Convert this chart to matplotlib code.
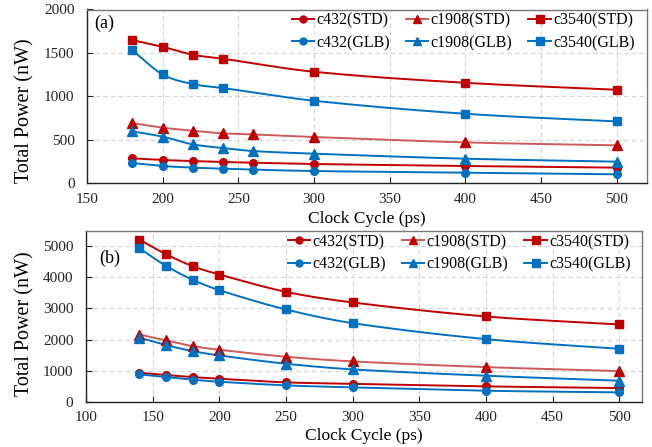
import numpy as np
import matplotlib
matplotlib.use("Agg")
import matplotlib.pyplot as plt
from matplotlib.lines import Line2D

plt.rcParams['font.family'] = ['Liberation Serif', 'DejaVu Serif']

# ---------------- data ----------------
# panel (a)
xa_c432 = [180, 200, 220, 240, 260, 300, 400, 500]
ya_c432_std = [284, 265, 253, 242, 234, 219, 196, 177]
ya_c432_glb = [230, 196, 177, 165, 154, 138, 119, 100]
xa_c1908 = [180, 200, 220, 240, 260, 300, 400, 500]
ya_c1908_std = [690, 637, 603, 572, 560, 530, 468, 434]
ya_c1908_glb = [595, 534, 445, 403, 368, 338, 280, 246]
xa_c3540 = [180, 200, 220, 240, 300, 400, 500]
ya_c3540_std = [1647, 1570, 1478, 1432, 1282, 1155, 1075]
ya_c3540_glb = [1528, 1251, 1140, 1094, 948, 798, 710]

# panel (b)
xb = [140, 160, 180, 200, 250, 300, 400, 500]
yb_c432_std = [931, 857, 792, 739, 621, 578, 493, 439]
yb_c432_glb = [878, 792, 707, 642, 525, 460, 353, 300]
yb_c1908_std = [2160, 1970, 1788, 1670, 1445, 1296, 1113, 985]
yb_c1908_glb = [2060, 1820, 1627, 1488, 1221, 1039, 835, 675]
yb_c3540_std = [5214, 4743, 4358, 4090, 3533, 3191, 2741, 2484]
yb_c3540_glb = [4936, 4368, 3919, 3587, 2966, 2527, 2013, 1702]

labels = ['c432(STD)', 'c1908(STD)', 'c3540(STD)', 'c432(GLB)', 'c1908(GLB)', 'c3540(GLB)']
xticks_a = [150, 200, 250, 300, 350, 400, 450, 500]
yticks_a = [0, 500, 1000, 1500, 2000]
xticks_b = [100, 150, 200, 250, 300, 350, 400, 450, 500]
yticks_b = [0, 1000, 2000, 3000, 4000, 5000]

RED = '#C00000'
RED_LIGHT = '#CC5A5A'
BLUE = '#0070C0'


def smooth(x, y, n=30):
    x = np.asarray(x, float)
    y = np.asarray(y, float)
    m = np.zeros_like(y)
    m[1:-1] = (y[2:] - y[:-2]) / (x[2:] - x[:-2])
    m[0] = (y[1] - y[0]) / (x[1] - x[0])
    m[-1] = (y[-1] - y[-2]) / (x[-1] - x[-2])
    xs, ys = [], []
    for i in range(len(x) - 1):
        h = x[i + 1] - x[i]
        t = np.linspace(0, 1, n)
        h00 = 2 * t**3 - 3 * t**2 + 1
        h10 = t**3 - 2 * t**2 + t
        h01 = -2 * t**3 + 3 * t**2
        h11 = t**3 - t**2
        xs.append(x[i] + t * h)
        ys.append(h00 * y[i] + h10 * h * m[i] + h01 * y[i + 1] + h11 * h * m[i + 1])
    return np.concatenate(xs), np.concatenate(ys)


def series(ax, x, y, color, linecolor, marker, ms):
    sx, sy = smooth(x, y)
    ax.plot(sx, sy, color=linecolor, lw=1.4, zorder=3)
    ax.plot(x, y, ls='none', marker=marker, color=color, ms=ms, zorder=4)


def style(ax, xlim, ylim, xticks, yticks, ylab_xy, xlab_y):
    ax.set_xlim(*xlim)
    ax.set_ylim(*ylim)
    ax.set_xticks(xticks)
    ax.set_yticks(yticks)
    ax.grid(True, ls=(0, (4, 3)), color='#D3D3D3', lw=0.8, zorder=0)
    ax.set_axisbelow(True)
    ax.tick_params(direction='in', labelsize=11, length=4, colors='#222222')
    ax.tick_params(axis='x', pad=7)
    ax.tick_params(axis='y', pad=9)
    for s in ['left', 'bottom']:
        ax.spines[s].set_color('#222222')
        ax.spines[s].set_linewidth(1.0)
    for s in ['top', 'right']:
        ax.spines[s].set_color('#777777')
        ax.spines[s].set_linewidth(1.0)
    ax.set_ylabel('Total Power (nW)', fontsize=14.5)
    ax.set_xlabel('Clock Cycle (ps)', fontsize=12.5)
    ax.yaxis.set_label_coords(*ylab_xy)
    ax.xaxis.set_label_coords(0.5, xlab_y)
    ax.xaxis.label.set_va('center')
    ax.yaxis.label.set_va('center')


def legend(ax, x_anchor):
    handles = [
        Line2D([], [], color=RED, marker='o', ms=5, lw=1.4),
        Line2D([], [], color=RED_LIGHT, marker='^', ms=6, lw=1.4, markerfacecolor=RED, markeredgecolor=RED),
        Line2D([], [], color=RED, marker='s', ms=5.5, lw=1.4),
        Line2D([], [], color=BLUE, marker='o', ms=5, lw=1.4),
        Line2D([], [], color=BLUE, marker='^', ms=6, lw=1.4),
        Line2D([], [], color=BLUE, marker='s', ms=5.5, lw=1.4),
    ]
    order = [0, 3, 1, 4, 2, 5]
    ax.legend([handles[i] for i in order], [labels[i] for i in order], ncol=3,
              loc='upper right', bbox_to_anchor=(x_anchor, 1.0), frameon=False,
              fontsize=11.5, handlelength=1.4, handletextpad=0.15, columnspacing=1.0,
              labelspacing=0.4, borderaxespad=0.0, borderpad=0.2)


W, H = 652, 447
fig = plt.figure(figsize=(W / 100, H / 100), dpi=100)

ax1 = fig.add_axes([87 / W, 1 - 183 / H, (647 - 87) / W, (183 - 9.5) / H])
series(ax1, xa_c432, ya_c432_std, RED, RED, 'o', 5.5)
series(ax1, xa_c432, ya_c432_glb, BLUE, BLUE, 'o', 5.5)
series(ax1, xa_c1908, ya_c1908_std, RED, RED_LIGHT, '^', 6.5)
series(ax1, xa_c1908, ya_c1908_glb, BLUE, BLUE, '^', 6.5)
series(ax1, xa_c3540, ya_c3540_std, RED, RED, 's', 6)
series(ax1, xa_c3540, ya_c3540_glb, BLUE, BLUE, 's', 6)
style(ax1, (150, 520), (0, 2000), xticks_a, yticks_a,
      ((25 - 87) / 560, (183 - 111) / 173.5), (183 - 219) / 173.5)
ax1.text(0.0125, 0.922, '(a)', transform=ax1.transAxes, fontsize=13, va='center', ha='left')
legend(ax1, 1 - 9 / 560)

ax2 = fig.add_axes([86 / W, 1 - 401.7 / H, (642 - 86) / W, (401.7 - 230.7) / H])
series(ax2, xb, yb_c432_std, RED, RED, 'o', 5.5)
series(ax2, xb, yb_c432_glb, BLUE, BLUE, 'o', 5.5)
series(ax2, xb, yb_c1908_std, RED, RED_LIGHT, '^', 6.5)
series(ax2, xb, yb_c1908_glb, BLUE, BLUE, '^', 6.5)
series(ax2, xb, yb_c3540_std, RED, RED, 's', 6)
series(ax2, xb, yb_c3540_glb, BLUE, BLUE, 's', 6)
style(ax2, (100, 517), (0, 5500), xticks_b, yticks_b,
      ((25 - 86) / 556, (401.7 - 324) / 171), (401.7 - 436) / 171)
ax2.text(0.023, 0.84, '(b)', transform=ax2.transAxes, fontsize=13, va='center', ha='left')
legend(ax2, 1 - 8 / 556)

fig.savefig('out.png', dpi=100)
